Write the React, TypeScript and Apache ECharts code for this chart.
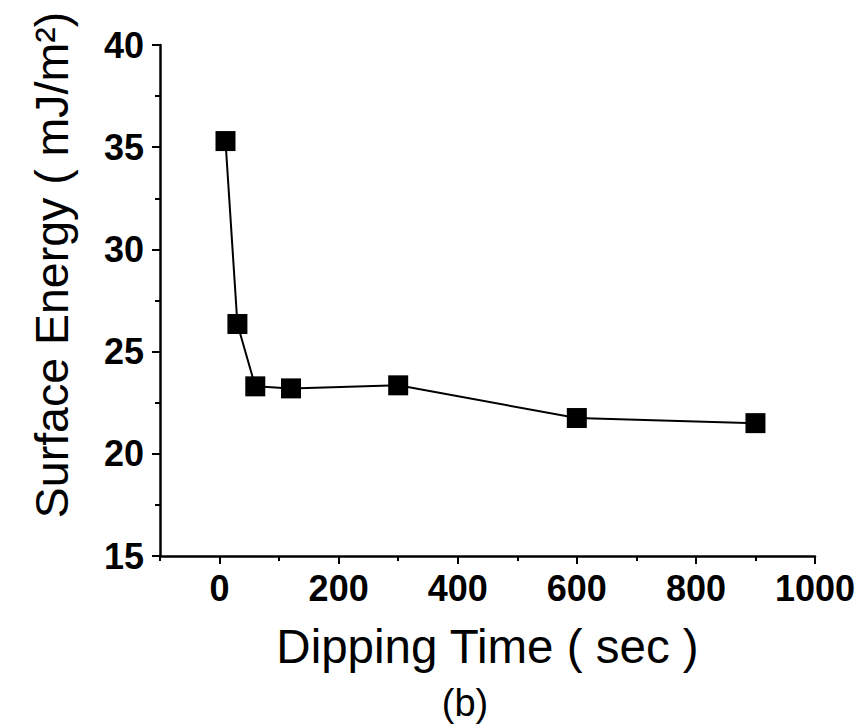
import React, { useEffect, useRef } from "react";
import * as echarts from "echarts";

const dippingTime = [10, 30, 60, 120, 300, 600, 900];
const surfaceEnergy = [35.3, 26.35, 23.3, 23.2, 23.35, 21.75, 21.5];
const xMajorTicks = [0, 200, 400, 600, 800, 1000];
const xTitle = "Dipping Time ( sec )";
const yTitle = "Surface Energy ( mJ/m²)";
const caption = "(b)";

export default function App() {
  const ref = useRef<HTMLDivElement>(null);
  useEffect(() => {
    if (!ref.current) return;
    const chart = echarts.init(ref.current, undefined, { renderer: "svg" });
    const font = "'Liberation Sans', Arial, sans-serif";
    chart.setOption({
      animation: false,
      backgroundColor: "#ffffff",
      grid: { left: 160, right: 53, top: 45, bottom: 171, containLabel: false },
      xAxis: [
        {
          type: "value",
          min: -100,
          max: 1000,
          position: "bottom",
          splitLine: { show: false },
          axisLine: { show: true, onZero: false, lineStyle: { color: "#000", width: 2.5 } },
          axisTick: { show: true, inside: false, length: 8, customValues: xMajorTicks, lineStyle: { color: "#000", width: 2 } },
          axisLabel: {
            customValues: xMajorTicks,
            color: "#000",
            fontSize: 36,
            fontWeight: "bold",
            fontFamily: font,
            margin: 14,
            formatter: (v: number) => String(v),
          },
          name: xTitle,
          nameLocation: "middle",
          nameGap: 66,
          nameTextStyle: { color: "#000", fontSize: 47.5, fontFamily: font },
        },
        {
          type: "value",
          min: -100,
          max: 1000,
          interval: 100,
          position: "bottom",
          splitLine: { show: false },
          axisLine: { show: false },
          axisTick: { show: true, length: 5, lineStyle: { color: "#000", width: 2 } },
          axisLabel: { show: false },
        },
      ],
      yAxis: {
        type: "value",
        min: 15,
        max: 40,
        interval: 5,
        splitLine: { show: false },
        axisLine: { show: true, onZero: false, lineStyle: { color: "#000", width: 2.5 } },
        axisTick: { show: true, length: 8, lineStyle: { color: "#000", width: 2 } },
        minorTick: { show: true, splitNumber: 2, length: 5, lineStyle: { color: "#000", width: 2 } },
        axisLabel: { color: "#000", fontSize: 36, fontWeight: "bold", fontFamily: font, margin: 16 },
      },
      graphic: [
        {
          type: "text",
          x: 52,
          y: 265,
          rotation: Math.PI / 2,
          style: {
            text: yTitle,
            fill: "#000",
            fontSize: 46.5,
            fontFamily: font,
            align: "center",
            verticalAlign: "middle",
          },
        },
        {
          type: "text",
          x: 465,
          y: 703,
          style: {
            text: caption,
            fill: "#000",
            fontSize: 38,
            fontFamily: font,
            align: "center",
            verticalAlign: "middle",
          },
        },
      ],
      series: [
        {
          type: "line",
          xAxisIndex: 0,
          data: dippingTime.map((t, i) => [t, surfaceEnergy[i]]),
          symbol: "rect",
          symbolSize: 20,
          showAllSymbol: true,
          itemStyle: { color: "#000" },
          lineStyle: { color: "#000", width: 2 },
        },
      ],
    });
    return () => chart.dispose();
  }, []);
  return (
    <div
      ref={ref}
      style={{ position: "fixed", left: 0, top: 0, width: 868, height: 727, background: "#fff" }}
    />
  );
}
